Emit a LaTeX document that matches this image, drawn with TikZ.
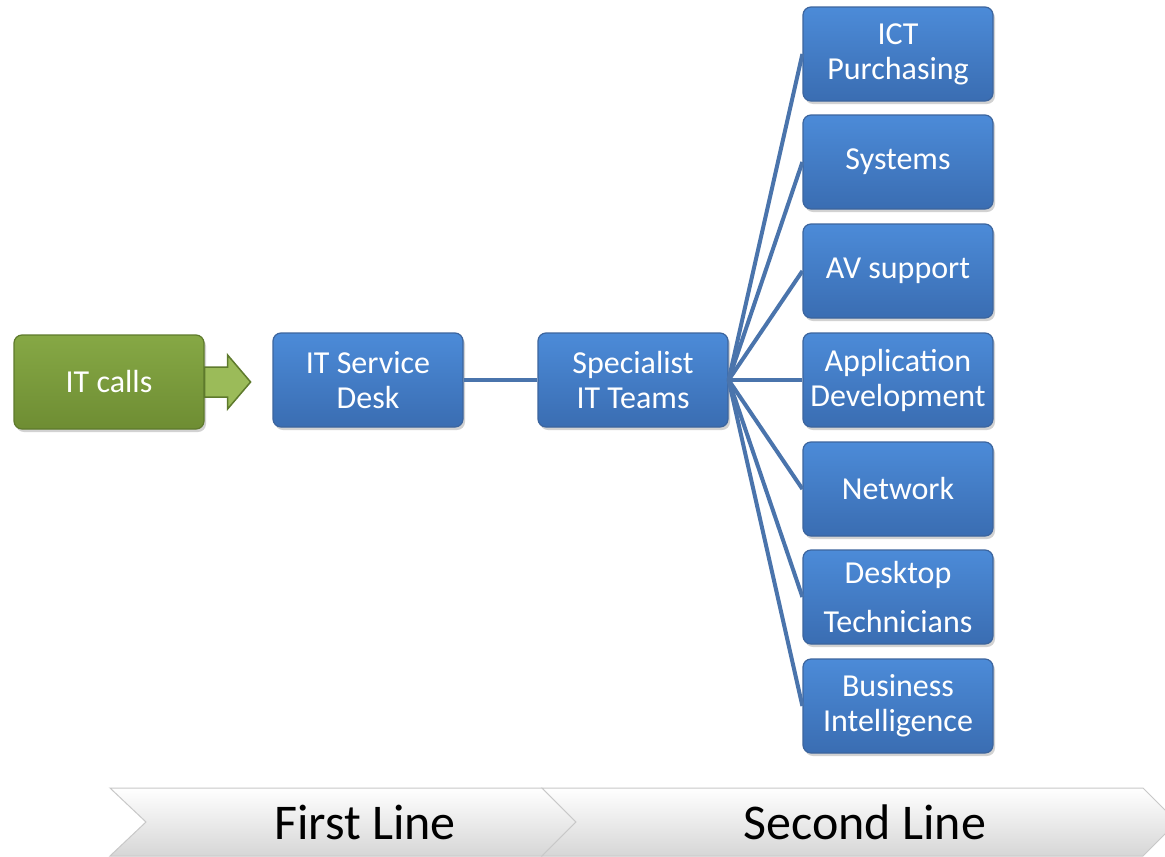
\documentclass[tikz,border=0pt]{standalone}
\usepackage{fontspec}
\setmainfont{Carlito}
\usetikzlibrary{shadows}
\definecolor{bluetop}{HTML}{4C8BD8}
\definecolor{bluebot}{HTML}{3A6DB2}
\definecolor{blueedge}{HTML}{3C659E}
\definecolor{greentop}{HTML}{86A845}
\definecolor{greenbot}{HTML}{6E8D33}
\definecolor{greenedge}{HTML}{5E7A2C}
\definecolor{arrfill}{HTML}{9BBB59}
\definecolor{linec}{HTML}{4A74AC}
\definecolor{chevedge}{HTML}{C8C8C8}
\tikzset{
  box/.style={draw=blueedge, line width=1.2pt, rounded corners=8pt,
    minimum width=190pt, minimum height=94pt, inner sep=2pt,
    top color=bluetop, bottom color=bluebot, text=white, align=center,
    font=\fontsize{32}{35}\selectfont,
    drop shadow={opacity=0.35, shadow xshift=2pt, shadow yshift=-3pt}},
  gbox/.style={box, draw=greenedge, top color=greentop, bottom color=greenbot},
  conn/.style={draw=linec, line width=4pt},
  garrow/.style={draw=greenedge, line width=1.5pt, fill=arrfill, line join=miter},
  chev/.style={draw=chevedge, line width=1pt, top color=white, bottom color=black!16},
  chevtext/.style={font=\fontsize{50}{54}\selectfont, text=black}
}
\begin{document}
\begin{tikzpicture}[x=1pt,y=-1pt]
\useasboundingbox (0,0) rectangle (1165,857);
\fill[white] (0,0) rectangle (1165,857);
% boxes
\node[gbox] (calls) at (109,382) {IT calls};
\node[box] (desk) at (368,380) {IT Service\\Desk};
\node[box] (spec) at (633,380) {Specialist\\IT Teams};
\node[box] (ict) at (898,54) {ICT\\Purchasing};
\node[box] (sys) at (898,162) {Systems};
\node[box] (av) at (898,271) {AV support};
\node[box] (app) at (898,380) {Application\\Development};
\node[box] (net) at (898,489) {Network};
\node[box, font=\fontsize{32}{49}\selectfont] (dt) at (898,597) {Desktop\\Technicians};
\node[box] (bi) at (898,706) {Business\\Intelligence};
% arrow from IT calls
\coordinate (atail) at (calls.east);
\draw[garrow] (atail) ++(0,-15) -- ++(23,0) -- ++(0,-12) -- ++(23,27)
  -- ++(-23,27) -- ++(0,-12) -- ++(-23,0) -- cycle;
% connectors
\draw[conn] (desk.east) -- (spec.west);
\draw[conn] (spec.east) -- (ict.west);
\draw[conn] (spec.east) -- (sys.west);
\draw[conn] (spec.east) -- (av.west);
\draw[conn] (spec.east) -- (app.west);
\draw[conn] (spec.east) -- (net.west);
\draw[conn] (spec.east) -- (dt.west);
\draw[conn] (spec.east) -- (bi.west);
% chevrons
\draw[chev] (110,788) -- (542,788) -- (576,822) -- (542,856) -- (110,856) -- (146,822) -- cycle;
\draw[chev] (542,788) -- (1143,788) -- (1177,822) -- (1143,856) -- (542,856) -- (576,822) -- cycle;
\node[chevtext] (first) at (365,822) {First Line};
\node[chevtext] (second) at (865,822) {Second Line};
\end{tikzpicture}
\end{document}
